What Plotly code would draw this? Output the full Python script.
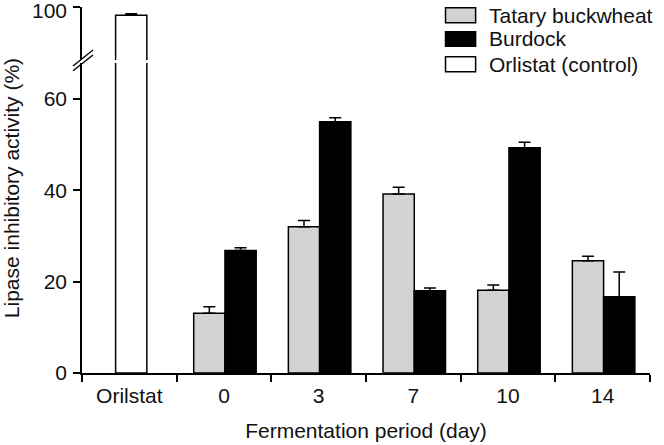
import plotly.graph_objects as go

# ---- data ----
categories = ["Orilstat", "0", "3", "7", "10", "14"]
days = ["0", "3", "7", "10", "14"]
tatary = [13.1, 32.0, 39.2, 18.1, 24.6]
tatary_err = [1.4, 1.4, 1.5, 1.15, 0.95]
burdock = [26.8, 55.0, 18.0, 49.3, 16.7]
burdock_err = [0.65, 0.9, 0.6, 1.25, 5.4]
orlistat_cat = ["Orilstat"]
orlistat = [98.2]
orlistat_err = [0.3]
legend_names = ["Tatary buckwheat", "Burdock", "Orlistat (control)"]

GRAY = "#d3d3d3"
FONT = "Liberation Sans, Arial, sans-serif"
TXT = "#111111"
W = 0.33

def err(vals):
    return dict(type="data", array=vals, arrayminus=[0] * len(vals), symmetric=False,
                color="black", thickness=1.5, width=6)

fig = go.Figure()
for yax in ["y", "y2"]:
    fig.add_trace(go.Bar(x=orlistat_cat, y=orlistat, width=W, offset=-W / 2 + 0.02,
                         marker=dict(color="white", line=dict(color="black", width=1.5)),
                         error_y=err(orlistat_err), xaxis="x", yaxis=yax, showlegend=False))
    fig.add_trace(go.Bar(x=days, y=tatary, width=W, offset=-W + 0.01,
                         marker=dict(color=GRAY, line=dict(color="black", width=1.5)),
                         error_y=err(tatary_err), xaxis="x", yaxis=yax, showlegend=False))
    fig.add_trace(go.Bar(x=days, y=burdock, width=W, offset=0.01,
                         marker=dict(color="black", line=dict(color="black", width=1.5)),
                         error_y=err(burdock_err), xaxis="x", yaxis=yax, showlegend=False))

axis_common = dict(showline=True, linecolor="black", linewidth=1.5, ticks="outside",
                   ticklen=7, tickwidth=1.5, tickcolor="black", showgrid=False, zeroline=False,
                   automargin=False, ticklabeloverflow="allow",
                   tickfont=dict(family=FONT, size=21, color=TXT))

shapes = []
# axis break slashes
for dy0, dy1 in [(-4.5, 11.5), (-9.2, 6.5)]:
    shapes.append(dict(type="line", xref="paper", yref="paper", xsizemode="pixel", ysizemode="pixel",
                       xanchor=0, yanchor=0.851, x0=-9, x1=11, y0=dy0, y1=dy1,
                       line=dict(color="black", width=1.5)))
# legend boxes
legend_colors = [GRAY, "black", "white"]
box_y = [(0.998, 0.957), (0.9325, 0.893), (0.864, 0.823)]
annotations = []
for name, col, (ya, yb) in zip(legend_names, legend_colors, box_y):
    shapes.append(dict(type="rect", xref="paper", yref="paper", x0=0.640, x1=0.693, y0=yb, y1=ya,
                       fillcolor=col, line=dict(color="black", width=1.5)))
    annotations.append(dict(text=name, xref="paper", yref="paper", x=0.713, y=(ya + yb) / 2,
                            xanchor="left", yanchor="middle", showarrow=False,
                            font=dict(family=FONT, size=21, color=TXT)))
# y-axis title (spans both segments)
annotations.append(dict(text="Lipase inhibitory activity (%)", xref="paper", yref="paper",
                        x=-0.125, y=0.505, xanchor="center", yanchor="middle", textangle=-90,
                        showarrow=False, font=dict(family=FONT, size=21, color=TXT)))

fig.update_layout(
    width=664, height=445,
    margin=dict(l=82, r=14, t=7, b=72),
    paper_bgcolor="white", plot_bgcolor="white",
    barmode="overlay",
    xaxis=dict(**axis_common, type="category", categoryorder="array", categoryarray=categories,
               range=[-0.5, 5.5], tickson="boundaries", anchor="y", ticklabelstandoff=3,
               title=dict(text="Fermentation period (day)", standoff=17,
                          font=dict(family=FONT, size=21, color=TXT))),
    yaxis=dict(**axis_common, domain=[0, 0.847], range=[0, 67.88], tickvals=[0, 20, 40, 60],
               anchor="x", ticklabelstandoff=2),
    yaxis2=dict(**axis_common, domain=[0.8552, 1], range=[88.4, 100.001], tickvals=[100],
                anchor="x", ticklabelstandoff=2, ticklabelshift=4),
    shapes=shapes,
    annotations=annotations,
)

fig.write_html("out.html", config={"displayModeBar": False},
               post_script="document.body.style.margin='0';")
